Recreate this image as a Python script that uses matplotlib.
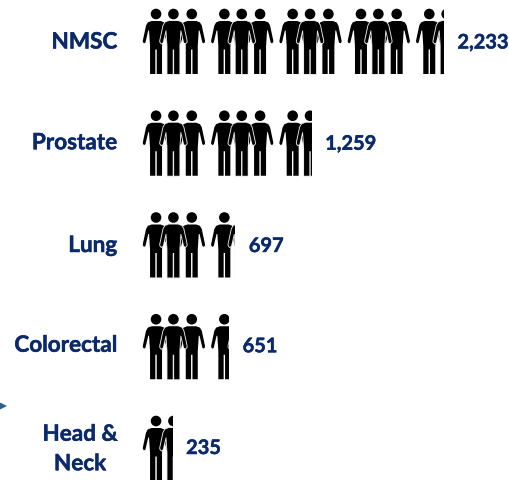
import numpy as np
import matplotlib
matplotlib.use("Agg")
import matplotlib.pyplot as plt
import matplotlib.patheffects as pe
from matplotlib.path import Path
from matplotlib.patches import PathPatch, Rectangle
from matplotlib.transforms import Affine2D

categories = ["NMSC", "Prostate", "Lung", "Colorectal", "Head &\nNeck"]
values = [2233, 1259, 697, 651, 235]
value_labels = ["2,233", "1,259", "697", "651", "235"]

W, H = 510, 481
X0, SX = 140.7, 0.1358          # px position of zero, px per case
ROW0, ROWH = 45.0, 101.75       # px centre of first row, row pitch
NAVY = "#0b2a6b"
plt.rcParams['font.family'] = ['Lato', 'DejaVu Sans']

fig = plt.figure(figsize=(W / 100, H / 100), dpi=100)
ax = fig.add_axes([0, 0, 1, 1])
ax.set_xlim(-X0 / SX, (W - X0) / SX)
ax.set_ylim((H - ROW0) / ROWH, -ROW0 / ROWH)
ax.axis("off")

# person glyph in pixels, relative to the row centre (y down)
right = [(0, 7.0), (4.5, 7.0), (8.2, 8.4), (10.0, 11.5), (13.2, 26.5), (13.2, 28), (12.0, 29.4),
         (10.6, 28.5), (7.8, 16.5), (7.0, 16.5), (6.0, 32), (6.0, 60), (0.7, 60), (0.7, 35.5), (0, 35.5)]
outline = right + [(-x, y) for x, y in right[::-1][1:-1]]
outline = [(x, y - 30) for x, y in outline]
codes = [Path.MOVETO] + [Path.LINETO] * (len(outline) - 1) + [Path.CLOSEPOLY]
body = Path(outline + [outline[0]], codes)
head = Path.circle((0, -30), 5.3)
person = Path.make_compound_path(body, head)

GROUP_CASES = 503
PERSON_OFFSETS = [113, 376, 241]   # left, right, then middle on top

def draw_person(xv, yv, clip, halo):
    px, py = ax.transData.transform((xv, yv))
    tr = Affine2D().scale(1, -1).translate(px, py)
    if halo:
        h = PathPatch(body, transform=tr, facecolor="white", edgecolor="#e8e8e8",
                      linewidth=1.3, zorder=4)
        ax.add_patch(h)
        h.set_clip_path(clip)
    p = PathPatch(person, transform=tr, facecolor="black", edgecolor="none", linewidth=0,
                  zorder=5 if halo else 3)
    ax.add_patch(p)
    p.set_clip_path(clip)

cat_dy = [-2, -3, -2, -4, -2]
val_dy = [-1.5, -2, -1.5, -3, -3]
stroke = [pe.withStroke(linewidth=0.35, foreground=NAVY)]

for i, (cat, v, lab) in enumerate(zip(categories, values, value_labels)):
    clip = Rectangle((0, i - 0.6), v, 1.2, transform=ax.transData)
    for g in range(int(np.ceil(v / GROUP_CASES))):
        for k, off in enumerate(PERSON_OFFSETS):
            draw_person(g * GROUP_CASES + off, i, clip, k == 2)
    if "\n" in cat:
        ax.text((80 - X0) / SX, i + cat_dy[i] / ROWH, cat, ha="center", va="center", fontsize=16.2,
                fontweight="bold", color=NAVY, linespacing=1.5, path_effects=stroke)
    else:
        ax.text((117 - X0) / SX, i + cat_dy[i] / ROWH, cat, ha="right", va="center", fontsize=16.2,
                fontweight="bold", color=NAVY, path_effects=stroke)
    ax.text(v + 13.5 / SX, i + val_dy[i] / ROWH, lab, ha="left", va="center", fontsize=14.4,
            fontweight="bold", color=NAVY, path_effects=stroke)

# small stray arrow head at the left edge
ax.plot([(3 - X0) / SX], [(407 - ROW0) / ROWH], marker=">", ms=6,
        color="#2f5f8f", clip_on=False, markeredgewidth=0)

fig.savefig("out.png", dpi=100, facecolor="white")
